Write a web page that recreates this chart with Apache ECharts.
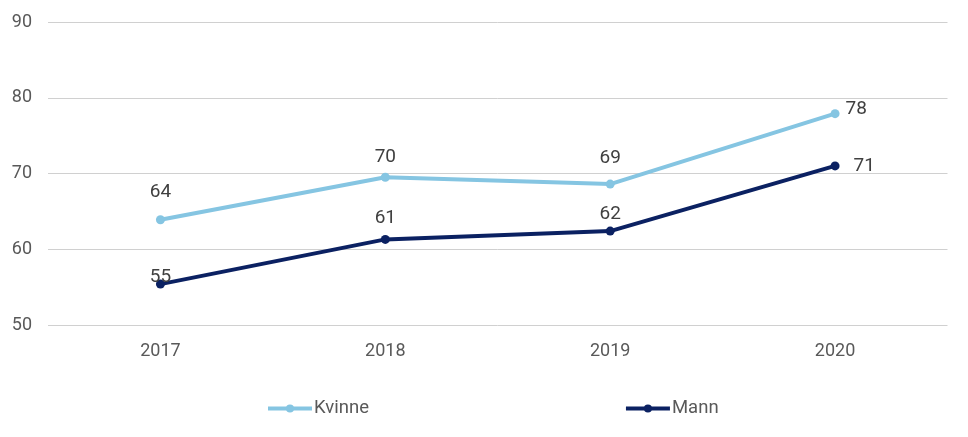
<!DOCTYPE html>
<html><head><meta charset="utf-8">
<script src="https://cdn.jsdelivr.net/npm/echarts@6/dist/echarts.min.js"></script>
<style>html,body{margin:0;padding:0;background:#fff}#c{width:968px;height:437px}</style>
</head><body><div id="c"></div>
<script>
var categories = ['2017','2018','2019','2020'];
var kvinne = [63.9, 69.5, 68.6, 77.9];
var mann = [55.4, 61.3, 62.4, 71.0];

// label placement (style)
var kvinneLabelPos = [['top',[0,-8]],['top',[0,-1]],['top',[0,-7]],['right',[1,-4]]];
var mannLabelPos = [['top',[0,12]],['top',[0,-2]],['top',[0,2]],['right',[9,0]]];

function build(vals, pos){
  return vals.map(function(v,i){
    return {value:v, label:{position:pos[i][0], offset:pos[i][1]}};
  });
}
var chart = echarts.init(document.getElementById('c'));
var font = 'Roboto';
chart.setOption({
  animation:false,
  grid:{left:48,right:20.5,top:22,bottom:112},
  legend:{
    bottom:14, left:261, itemGap:255, itemWidth:44, itemHeight:10,
    lineStyle:{width:4},
    textStyle:{fontFamily:font,fontSize:18.5,color:'#595959',padding:[0,0,0,-3]},
    data:['Kvinne','Mann']
  },
  xAxis:{type:'category',data:categories,boundaryGap:true,
    axisLine:{show:false},axisTick:{show:false},
    axisLabel:{fontFamily:font,fontSize:18,color:'#595959',margin:17}},
  yAxis:{type:'value',min:50,max:90,interval:10,
    axisLabel:{fontFamily:font,fontSize:18,color:'#595959',margin:16},
    splitLine:{lineStyle:{color:'#d0d0d0',width:1}}},
  series:[
    {name:'Kvinne',type:'line',data:build(kvinne,kvinneLabelPos),
     color:'#85c5e2',lineStyle:{width:4,color:'#85c5e2'},symbol:'circle',symbolSize:9,
     itemStyle:{color:'#85c5e2'},
     label:{show:true,fontFamily:font,fontSize:19,color:'#404040',
       formatter:function(p){return Math.round(p.value);}}},
    {name:'Mann',type:'line',data:build(mann,mannLabelPos),
     color:'#0b2162',lineStyle:{width:4,color:'#0b2162'},symbol:'circle',symbolSize:9,
     itemStyle:{color:'#0b2162'},
     label:{show:true,fontFamily:font,fontSize:19,color:'#404040',
       formatter:function(p){return Math.round(p.value);}}}
  ]
});
</script></body></html>
